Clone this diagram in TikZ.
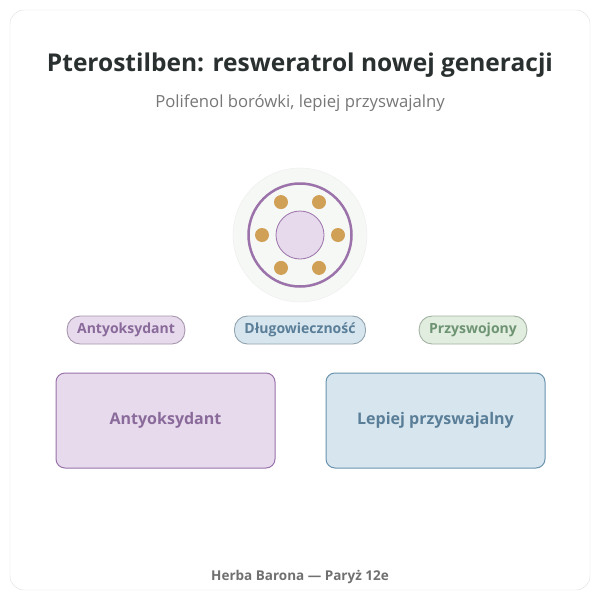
\documentclass[tikz,border=0pt]{standalone}
\usepackage{fontspec}
\setmainfont{Open Sans}
\usetikzlibrary{calc}
\begin{document}
\begin{tikzpicture}[x=1pt,y=-1pt,
 pill/.style={draw=#1!70!black!60, rounded corners=13pt, minimum height=28pt, line width=0.9pt, inner xsep=10pt, font=\fontsize{14}{16}\selectfont\bfseries},
 box/.style={rounded corners=9pt, line width=1pt, minimum width=219pt, minimum height=95pt, font=\fontsize{16}{19}\selectfont\bfseries}]
\definecolor{pur}{HTML}{9B72AA}\definecolor{purf}{HTML}{E6DAEC}\definecolor{purt}{HTML}{8A6A9A}
\definecolor{blu}{HTML}{6A93AE}\definecolor{bluf}{HTML}{D6E5EE}\definecolor{blut}{HTML}{5A7E98}
\definecolor{gre}{HTML}{8FB592}\definecolor{gref}{HTML}{E0EDDF}\definecolor{gret}{HTML}{6E9372}
\definecolor{gold}{HTML}{CFA056}\definecolor{halo}{HTML}{F6F8F5}
\useasboundingbox (0,0) rectangle (600,600);
\fill[white] (0,0) rectangle (600,600);
\draw[draw=black!12, fill=white, rounded corners=14pt] (10,10) rectangle (590,590);
\node (title) at (300,65) {\fontsize{24.5}{28}\selectfont\bfseries\color[HTML]{2A3030}Pterostilben: resweratrol nowej generacji};
\node (sub) at (300,103) {\fontsize{16.7}{20}\selectfont\color[HTML]{777777}Polifenol borówki, lepiej przyswajalny};
\node[circle, minimum size=134pt, fill=halo, draw=black!7] (outer) at (300,235) {};
\node[circle, minimum size=103pt, draw=pur, line width=2.5pt] (ring) at (300,235) {};
\node[circle, minimum size=48pt, fill=purf, draw=pur, line width=0.8pt] (core) at (300,235) {};
\foreach \a [count=\i] in {0,60,120,180,240,300}
  \node[circle, fill=gold, minimum size=14pt, inner sep=0] (d\i) at ($(300,235)+(\a:38)$) {};
\node[pill=pur, fill=purf, text=purt] (p1) at (126,330) {Antyoksydant};
\node[pill=blu, fill=bluf, text=blut] (p2) at (300,330) {Długowieczność};
\node[pill=gre, fill=gref, text=gret] (p3) at (473,330) {Przyswojony};
\node[box, draw=pur, fill=purf, text=purt] (b1) at (165.5,420.5) {Antyoksydant};
\node[box, draw=blu, fill=bluf, text=blut] (b2) at (435.5,420.5) {Lepiej przyswajalny};
\node (foot) at (300,577) {\fontsize{13.5}{16}\selectfont\bfseries\color[HTML]{707070}Herba Barona — Paryż 12e};
\end{tikzpicture}
\end{document}
